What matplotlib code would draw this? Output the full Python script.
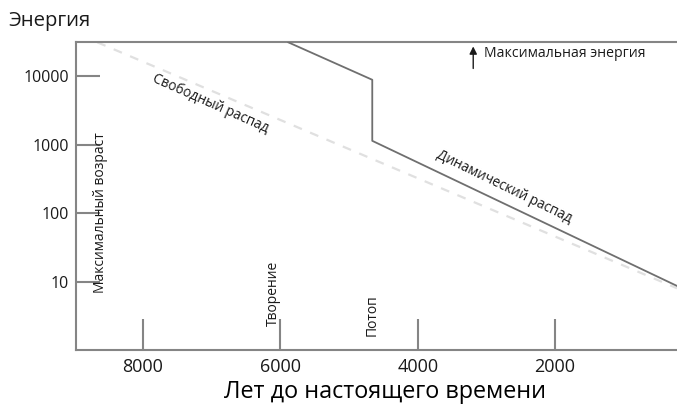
import matplotlib
matplotlib.use("Agg")
import matplotlib.pyplot as plt
from matplotlib.ticker import FixedLocator, NullLocator

# ---------------------------------------
# Data
# ---------------------------------------

# Dynamic decay: years before present and energy
dynamic_years = [5885, 4662, 4662, 225]
dynamic_energy = [31600, 8950, 1146, 8.65]

# Free decay (dashed, faint)
free_years = [8665, 225]
free_energy = [31600, 8.0]

x_ticks = [8000, 6000, 4000, 2000]
x_tick_labels = ["8000", "6000", "4000", "2000"]
y_ticks = [10, 100, 1000, 10000]
y_tick_labels = ["10", "100", "1000", "10000"]

# Events marked along the time axis
events = ["Максимальный возраст", "Творение", "Потоп"]
event_years = [8621, 6103, 4662]
event_energy = [101, 6.8, 3.26]

GRAY_LINE = "#6f6f6f"
GRAY_AXIS = "#858585"
GRAY_FREE = "#e0e0e0"
TEXT = "#1a1a1a"

plt.rcParams.update({
    "font.family": ["Open Sans", "DejaVu Sans"],
    "font.size": 10.5,
    "text.color": TEXT,
})

fig = plt.figure(figsize=(6.77, 4.07), dpi=100)
ax = fig.add_axes([75.7 / 677, 57 / 407, 1 - 75.7 / 677, (350 - 42.3) / 407])

ax.plot(free_years, free_energy, color=GRAY_FREE, linewidth=1.6,
        linestyle=(0, (4, 4)), zorder=2)
ax.plot(dynamic_years, dynamic_energy, color=GRAY_LINE, linewidth=1.3,
        zorder=3)

ax.set_yscale("log")
ax.set_xlim(8980, 225)
ax.set_ylim(1, 10 ** 4.5)

ax.xaxis.set_major_locator(FixedLocator(x_ticks))
ax.set_xticklabels(x_tick_labels, fontsize=13)
ax.yaxis.set_major_locator(FixedLocator(y_ticks))
ax.yaxis.set_minor_locator(NullLocator())
ax.set_yticklabels(y_tick_labels, fontsize=11.5)

ax.tick_params(axis="x", direction="in", length=22, width=1.5,
               color=GRAY_AXIS, pad=6, labelcolor=TEXT)
ax.tick_params(axis="y", direction="in", length=17, width=1.5,
               color=GRAY_AXIS, pad=5, labelcolor=TEXT)

for side in ["left", "bottom", "top"]:
    ax.spines[side].set_color(GRAY_AXIS)
    ax.spines[side].set_linewidth(1.5)
ax.spines["right"].set_visible(False)

ax.set_xlabel("Лет до настоящего времени", fontsize=16.8)
ax.xaxis.set_label_coords(0.515, -0.097)
fig.text(8 / 677, 1 - 21 / 407, "Энергия", fontsize=14.6, va="center",
         ha="left")

# Curve labels
ax.text(7020, 4000, "Свободный распад", rotation=-24, ha="center",
        va="center", fontsize=9.8, rotation_mode="anchor")
ax.text(2740, 240, "Динамический распад", rotation=-26, ha="center",
        va="center", fontsize=9.8, rotation_mode="anchor")

for label, year, energy in zip(events, event_years, event_energy):
    ax.text(year, energy, label, rotation=90, ha="center", va="center",
            fontsize=10)

# Maximal energy marker
ax.annotate("", xy=(3192, 27500), xytext=(3192, 13100),
            arrowprops=dict(arrowstyle="-|>", color=TEXT, lw=1.0,
                            mutation_scale=11, shrinkA=0, shrinkB=0))
ax.text(3032, 21700, "Максимальная энергия", ha="left", va="center",
        fontsize=10.1)

fig.savefig("out.png", dpi=100)
